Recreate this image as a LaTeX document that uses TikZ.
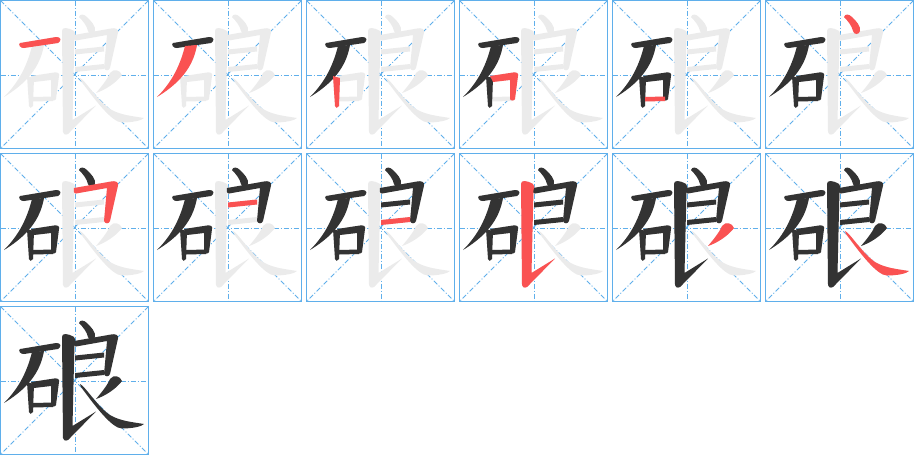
\documentclass[tikz,border=0pt]{standalone}
\definecolor{gridc}{RGB}{95,175,235}
\definecolor{inkc}{RGB}{51,51,51}
\definecolor{redc}{RGB}{250,82,82}
\definecolor{grayc}{RGB}{235,235,235}
\tikzset{
  cellframe/.style={draw=gridc, line width=1pt},
  guide/.style={draw=gridc, line width=0.8pt, dash pattern=on 5pt off 2pt on 1pt off 2pt}
}
% strokes of the character, in cell pixel coordinates
\newcommand\SkA[1]{\fill[#1] (20,43) -- (56,37) .. controls (61,36.5) and (62,41) .. (58,43) -- (24,48) .. controls (20,48.5) and (18,44) .. cycle;}
\newcommand\SkB[1]{\fill[#1] (32,46) -- (44,45) .. controls (41,62) and (32,80) .. (4,97) .. controls (16,85) and (26,70) .. (32,46) -- cycle;}
\newcommand\SkC[1]{\fill[#1] (27,76) -- (34,78) -- (33,106) .. controls (32,108.5) and (29,108.5) .. (29,106) -- cycle;}
\newcommand\SkD[1]{\fill[#1] (31,76) -- (54,72.5) .. controls (57,72) and (60,73) .. (59,76) -- (56,99) .. controls (55.5,101) and (51.5,101) .. (51,99) -- (51,80) -- (34,82) -- cycle;}
\newcommand\SkE[1]{\fill[#1] (33,97) -- (53,96.5) -- (53,101) -- (33,101.5) -- cycle;}
\newcommand\SkF[1]{\fill[#1] (79,17) .. controls (80,13.5) and (84,14) .. (87,17) .. controls (91,21) and (96,26) .. (95,31) .. controls (94,35) and (89,35) .. (88,31) .. controls (87,26) and (83,21) .. cycle;}
\newcommand\SkG[1]{\fill[#1] (74,35) -- (111,28.5) .. controls (115,27.5) and (119,29) .. (118,32.5) -- (110,68) .. controls (109,71) and (105,71) .. (104,68) -- (107,35) -- (76,40.5) .. controls (74,41) and (73,37) .. cycle;}
\newcommand\SkH[1]{\fill[#1] (75,49.5) -- (104,46.5) -- (104,51.5) -- (75,54.5) -- cycle;}
\newcommand\SkI[1]{\fill[#1] (75,67) -- (104,64) -- (104,69) -- (75,72) -- cycle;}
\newcommand\SkJ[1]{\fill[#1] (62,31) .. controls (62,27) and (67,27) .. (74,31) .. controls (76,32.5) and (75.5,35) .. (74.5,37) -- (72.5,120) -- (96,105.5) -- (70,132) .. controls (68,135) and (64,136) .. (63,132) -- cycle;}
\newcommand\SkK[1]{\fill[#1] (110,73) .. controls (114,68) and (120,70) .. (122,75) .. controls (116,83) and (105,90) .. (96,93) .. controls (101,87) and (107,80) .. cycle;}
\newcommand\SkL[1]{\fill[#1] (80,78) .. controls (85,80) and (97,100) .. (110,109) .. controls (120,115) and (132,116) .. (144,118) .. controls (142,120.5) and (132,122.5) .. (122,122.5) .. controls (112,122.5) and (95,100) .. (81,81) -- cycle;}
\newcommand\pstroke[2]{\ifnum#1<\k\relax #2{inkc}\else\ifnum#1=\k\relax #2{redc}\fi\fi}
\begin{document}
\begin{tikzpicture}[x=1pt,y=-1pt]
\useasboundingbox (0,0) rectangle (915,456);
\foreach \k in {1,...,13}{
  \pgfmathtruncatemacro\cc{mod(\k-1,6)}
  \pgfmathtruncatemacro\rr{(\k-1)/6}
  \begin{scope}[shift={(153*\cc,153*\rr)}]
    \draw[guide] (0.5,0.5) -- (148.5,148.5);
    \draw[guide] (148.5,0.5) -- (0.5,148.5);
    \draw[guide] (0.5,75) -- (148.5,75);
    \draw[guide] (75,0.5) -- (75,148.5);
    \draw[cellframe] (0.5,0.5) rectangle (148.5,148.5);
    \ifnum\k<13\relax
      \SkA{grayc}\SkB{grayc}\SkC{grayc}\SkD{grayc}\SkE{grayc}\SkF{grayc}
      \SkG{grayc}\SkH{grayc}\SkI{grayc}\SkJ{grayc}\SkK{grayc}\SkL{grayc}
    \fi
    \pstroke{1}\SkA \pstroke{2}\SkB \pstroke{3}\SkC \pstroke{4}\SkD
    \pstroke{5}\SkE \pstroke{6}\SkF \pstroke{7}\SkG \pstroke{8}\SkH
    \pstroke{9}\SkI \pstroke{10}\SkJ \pstroke{11}\SkK \pstroke{12}\SkL
  \end{scope}
}
\end{tikzpicture}
\end{document}
